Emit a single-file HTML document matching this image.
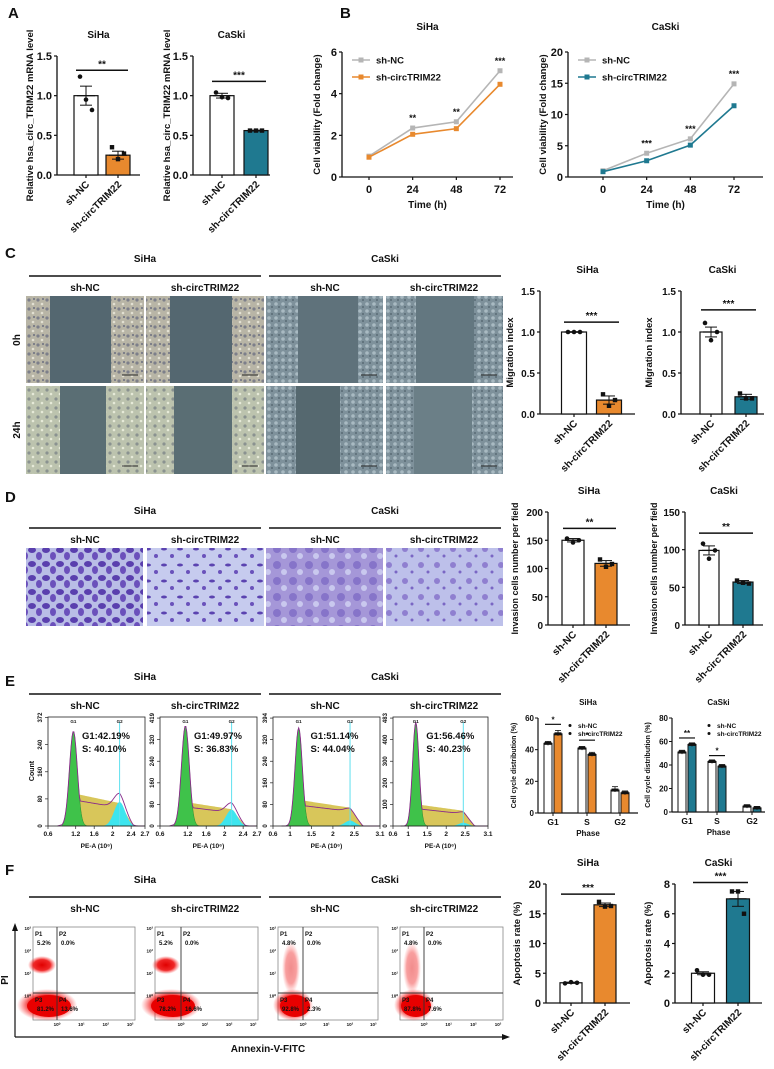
<!DOCTYPE html>
<html><head><meta charset="utf-8"><style>
html,body{margin:0;padding:0;background:#fff}
svg{display:block}
text{font-family:"Liberation Sans",Arial,sans-serif;font-weight:bold;fill:#111}
</style></head><body>
<svg id="fig" width="774" height="1069" viewBox="0 0 774 1069" xmlns="http://www.w3.org/2000/svg">
<defs>
<pattern id="pSi" width="9" height="9" patternUnits="userSpaceOnUse"><rect width="9" height="9" fill="#b8b5a6"/><circle cx="2" cy="3" r="1.6" fill="#7d7f8a"/><circle cx="6" cy="7" r="1.3" fill="#e2e0d2"/><circle cx="7" cy="2" r="1" fill="#6c6f80"/></pattern>
<pattern id="pSi2" width="9" height="9" patternUnits="userSpaceOnUse"><rect width="9" height="9" fill="#bcc3ae"/><circle cx="2" cy="3" r="1.6" fill="#8a9290"/><circle cx="6" cy="7" r="1.3" fill="#e6ead8"/></pattern>
<pattern id="pCa" width="7" height="7" patternUnits="userSpaceOnUse"><rect width="7" height="7" fill="#7e919b"/><circle cx="3" cy="3" r="1.8" fill="#a9bac2"/><circle cx="6" cy="6" r="0.9" fill="#4d6069"/></pattern>
<pattern id="pInv1" width="14" height="14" patternUnits="userSpaceOnUse"><rect width="14" height="14" fill="#b9bde6"/><ellipse cx="4" cy="4" rx="4" ry="3" fill="#5a3fae"/><ellipse cx="11" cy="10" rx="3" ry="4" fill="#6b50bb"/></pattern>
<pattern id="pInv2" width="16" height="16" patternUnits="userSpaceOnUse"><rect width="16" height="16" fill="#c6cbee"/><ellipse cx="4" cy="5" rx="3" ry="1.5" fill="#5b43b0"/><circle cx="12" cy="12" r="2" fill="#6a52bb"/></pattern>
<pattern id="pInv3" width="16" height="16" patternUnits="userSpaceOnUse"><rect width="16" height="16" fill="#a597d8"/><circle cx="5" cy="5" r="4" fill="#8674c9"/><circle cx="12" cy="12" r="3" fill="#c9c8ee"/></pattern>
<pattern id="pInv4" width="16" height="16" patternUnits="userSpaceOnUse"><rect width="16" height="16" fill="#bdc0ea"/><circle cx="5" cy="5" r="3" fill="#8f7fd0"/><circle cx="12" cy="12" r="1.5" fill="#7a66c4"/></pattern>
<radialGradient id="rg"><stop offset="0" stop-color="#e00000"/><stop offset="0.6" stop-color="#ee1010" stop-opacity="0.9"/><stop offset="1" stop-color="#ff4040" stop-opacity="0"/></radialGradient>
</defs>
<g id="root"></g>
</svg>
<script>
// ---------- data ----------
const cats = ["sh-NC","sh-circTRIM22"];
const aSihaVals=[1.0,0.25], aSihaErr=[0.12,0.05], aSihaPts=[[1.24,0.95,0.82],[0.35,0.2,0.27]];
const aCaskiVals=[1.0,0.56], aCaskiErr=[0.03,0.005], aCaskiPts=[[1.04,0.98,0.97],[0.56,0.56,0.56]];
const timeCats=[0,24,48,72];
const bSihaNC=[1.0,2.35,2.65,5.1], bSihaSh=[0.95,2.05,2.32,4.45], bSihaSig=["","**","**","***"];
const bCaskiNC=[1.0,3.8,6.1,14.9], bCaskiSh=[0.85,2.6,5.1,11.4], bCaskiSig=["","***","***","***"];
const cSihaVals=[1.0,0.17], cSihaErr=[0.003,0.05], cSihaPts=[[1,1,1],[0.24,0.1,0.17]];
const cCaskiVals=[1.0,0.21], cCaskiErr=[0.06,0.03], cCaskiPts=[[1.11,0.9,1.0],[0.25,0.19,0.19]];
const dSihaVals=[150,109], dSihaErr=[3,5], dSihaPts=[[153,146,150],[116,103,108]];
const dCaskiVals=[99,57], dCaskiErr=[6,2], dCaskiPts=[[108,88,99],[59,56,55]];
const phases=["G1","S","G2"];
const eSihaNC=[44,41,14.5], eSihaSh=[50,37,12.8], eSihaErrNC=[0.6,0.4,1.5], eSihaErrSh=[1.5,0.7,0.5];
const eCaskiNC=[51,43,5], eCaskiSh=[57.5,39,3.5], eCaskiErrNC=[0.7,0.5,0.4], eCaskiErrSh=[0.5,0.6,0.4];
const fSihaVals=[3.4,16.5], fSihaErr=[0.1,0.3], fSihaPts=[[3.3,3.5,3.4],[17,16.2,16.3]];
const fCaskiVals=[2.0,7.0], fCaskiErr=[0.1,0.5], fCaskiPts=[[2.2,1.9,1.9],[7.5,7.5,6.0]];
const histG1=["G1:42.19%","G1:49.97%","G1:51.14%","G1:56.46%"];
const histS=["S:  40.10%","S:  36.83%","S:  44.04%","S:  40.23%"];
const histYT=[["0","80","160","240","372"],["0","80","160","240","320","419"],["0","80","160","240","320","394"],["0","100","200","300","400","483"]];
const flowP1=["5.2%","5.2%","4.8%","4.8%"], flowP3=["81.2%","78.2%","92.8%","87.8%"], flowP4=["13.6%","16.6%","2.3%","7.6%"];

const NS="http://www.w3.org/2000/svg";
const root=document.getElementById('root');
function el(tag,attrs,parent,txt){const e=document.createElementNS(NS,tag);for(const k in attrs)e.setAttribute(k,attrs[k]);if(txt!==undefined)e.textContent=txt;(parent||root).appendChild(e);return e;}
function T(x,y,s,size,name,anchor,rot,parent){const t=el('text',{x:x,y:y,'font-size':size,'text-anchor':anchor||'middle'},parent,s);if(rot)t.setAttribute('transform','rotate('+rot+' '+x+' '+y+')');

return t;}
function L(x1,y1,x2,y2,w,c,parent){return el('line',{x1:x1,y1:y1,x2:x2,y2:y2,stroke:c||'#111','stroke-width':w||1.2},parent);}

const ORANGE="#e8892e", TEAL="#1f7990";

[["A",8,18],["B",340,18],["C",5,258],["D",5,502],["E",5,686],["F",5,875]].forEach(p=>{T(p[1],p[2],p[0],15,'panel-label-'+p[0].toLowerCase(),'start');});

function barChart(o){
  const g=el('g',{});
  
  
  const sy=v=>o.y0-(v/o.max)*(o.y0-o.yTop);
  T((o.ax+o.xEnd)/2,o.yTop-18,o.title,10,o.name+'-title','middle',0,g);
  L(o.ax,o.yTop,o.ax,o.y0,1.3,'#111',g);L(o.ax,o.y0,o.xEnd,o.y0,1.3,'#111',g);
  o.ticks.forEach(t=>{const y=sy(t);L(o.ax-3,y,o.ax,y,1.2,'#111',g);T(o.ax-5,y+4,o.tickFmt?o.tickFmt(t):String(t),o.tfs||11,o.name+'-tick','end',0,g);});
  T(o.ylx,(o.yTop+o.y0)/2,o.ylabel,o.ylfs||9.5,o.name+'-y-title','middle',-90,g);
  o.vals.forEach((v,i)=>{
    const cx=o.cx[i],w=o.w;
    const r=el('rect',{x:cx-w/2,y:sy(v),width:w,height:o.y0-sy(v),fill:i?o.color:'#fff',stroke:'#111','stroke-width':1.2},g);
    
    
    const e=o.errs[i];L(cx,sy(v+e),cx,sy(v-e),1,'#111',g);L(cx-6,sy(v+e),cx+6,sy(v+e),1,'#111',g);L(cx-6,sy(v-e),cx+6,sy(v-e),1,'#111',g);
    L(cx-w/2+3,sy(v),cx+w/2-3,sy(v),1.2,'#111',g);
    o.pts[i].forEach((p,j)=>{const px=cx+(j-1)*6;const s=i?el('rect',{x:px-2.2,y:sy(p)-2.2,width:4.4,height:4.4,fill:'#111'},g):el('circle',{cx:px,cy:sy(p),r:2.3,fill:'#111'},g);
      
      });
    L(cx,o.y0,cx,o.y0+3,1.2,'#111',g);
    T(cx+4,o.y0+10,cats[i],o.cfs||10,'category-label','end',-45,g);
  });
  const sl=sy(o.sigV);L(o.cx[0]-10,sl,o.cx[1]+10,sl,1.5,'#111',g);T((o.cx[0]+o.cx[1])/2,sl-3,o.sig,10,o.name+'-significance','middle',0,g);
}
barChart({name:'a-siha-chart',title:'SiHa',ax:57,xEnd:140,y0:175,yTop:56,max:1.5,ticks:[0,0.5,1.0,1.5],tickFmt:t=>t.toFixed(1),cx:[86,118],w:24,vals:aSihaVals,errs:aSihaErr,pts:aSihaPts,color:ORANGE,sig:'**',sigV:1.32,ylabel:'Relative  hsa_circ_TRIM22 mRNA level',ylx:33});
barChart({name:'a-caski-chart',title:'CaSki',ax:193,xEnd:270,y0:175,yTop:56,max:1.5,ticks:[0,0.5,1.0,1.5],tickFmt:t=>t.toFixed(1),cx:[222,256],w:24,vals:aCaskiVals,errs:aCaskiErr,pts:aCaskiPts,color:TEAL,sig:'***',sigV:1.18,ylabel:'Relative  hsa_circ_TRIM22 mRNA level',ylx:170});
barChart({name:'c-siha-chart',title:'SiHa',ax:540,xEnd:635,y0:414,yTop:291,max:1.5,ticks:[0,0.5,1.0,1.5],tickFmt:t=>t.toFixed(1),tfs:10,cx:[574,609],w:25,vals:cSihaVals,errs:cSihaErr,pts:cSihaPts,color:ORANGE,sig:'***',sigV:1.12,ylabel:'Migration index',ylx:513});
barChart({name:'c-caski-chart',title:'CaSki',ax:681,xEnd:764,y0:414,yTop:291,max:1.5,ticks:[0,0.5,1.0,1.5],tickFmt:t=>t.toFixed(1),tfs:10,cx:[711,746],w:22,vals:cCaskiVals,errs:cCaskiErr,pts:cCaskiPts,color:TEAL,sig:'***',sigV:1.27,ylabel:'Migration index',ylx:652});
barChart({name:'d-siha-chart',title:'SiHa',ax:548,xEnd:630,y0:625,yTop:512,max:200,ticks:[0,50,100,150,200],tfs:10,cx:[573,606],w:22,vals:dSihaVals,errs:dSihaErr,pts:dSihaPts,color:ORANGE,sig:'**',sigV:171,ylabel:'Invasion cells number per field',ylx:518,ylfs:9});
barChart({name:'d-caski-chart',title:'CaSki',ax:685,xEnd:763,y0:625,yTop:512,max:150,ticks:[0,50,100,150],tfs:10,cx:[709,743],w:20,vals:dCaskiVals,errs:dCaskiErr,pts:dCaskiPts,color:TEAL,sig:'**',sigV:122,ylabel:'Invasion cells number per field',ylx:657,ylfs:9});
barChart({name:'f-siha-chart',title:'SiHa',ax:546,xEnd:630,y0:1003,yTop:884,max:20,ticks:[0,5,10,15,20],cx:[571,605],w:22,vals:fSihaVals,errs:fSihaErr,pts:fSihaPts,color:ORANGE,sig:'***',sigV:18.3,ylabel:'Apoptosis rate (%)',ylx:520});
barChart({name:'f-caski-chart',title:'CaSki',ax:675,xEnd:762,y0:1003,yTop:884,max:8,ticks:[0,2,4,6,8],cx:[703,738],w:23,vals:fCaskiVals,errs:fCaskiErr,pts:fCaskiPts,color:TEAL,sig:'***',sigV:8.1,ylabel:'Apoptosis rate (%)',ylx:651});

function lineChart(o){
  const g=el('g',{});
  
  
  const sy=v=>o.y0-(v/o.max)*(o.y0-o.yTop);
  const sx=i=>o.x0+i*(o.x3-o.x0)/3;
  T((o.ax+o.xEnd)/2,o.yTop-22,o.title,10,o.name+'-title','middle',0,g);
  L(o.ax,o.yTop,o.ax,o.y0,1.3,'#111',g);L(o.ax,o.y0,o.xEnd,o.y0,1.3,'#111',g);
  o.ticks.forEach(t=>{const y=sy(t);L(o.ax-3,y,o.ax,y,1.2,'#111',g);T(o.ax-5,y+4,String(t),11,'y-tick','end',0,g);});
  timeCats.forEach((c,i)=>{L(sx(i),o.y0,sx(i),o.y0+3,1.2,'#111',g);T(sx(i),o.y0+16,String(c),11,'x-tick','middle',0,g);});
  T((o.ax+o.xEnd)/2,o.y0+31,'Time (h)',10,'x-axis-title','middle',0,g);
  T(o.ax-22,(o.yTop+o.y0)/2,'Cell viability (Fold change)',9.5,'y-axis-title','middle',-90,g);
  [[o.nc,'#b5b5b5','sh-NC'],[o.sh,o.color,'sh-circTRIM22']].forEach((s,k)=>{
    const p=el('polyline',{points:s[0].map((v,i)=>sx(i)+','+sy(v)).join(' '),fill:'none',stroke:s[1],'stroke-width':1.6},g);
    
    
    s[0].forEach((v,i)=>{const m=el('rect',{x:sx(i)-2.5,y:sy(v)-2.5,width:5,height:5,fill:s[1]},g);
      
      });
    const ly=o.yTop+8+k*17;L(o.ax+10,ly,o.ax+28,ly,1.6,s[1],g);el('rect',{x:o.ax+16.5,y:ly-2.5,width:5,height:5,fill:s[1]},g);
    T(o.ax+34,ly+3.5,s[2],9.5,'legend-entry','start',0,g);
  });
  o.sig.forEach((s,i)=>{if(s)T(sx(i),sy(o.nc[i])-7,s,9,'significance','middle',0,g);});
}
lineChart({name:'b-siha-chart',title:'SiHa',ax:342,xEnd:513,x0:369,x3:500,y0:177,yTop:52,max:6,ticks:[0,2,4,6],nc:bSihaNC,sh:bSihaSh,sig:bSihaSig,color:ORANGE});
lineChart({name:'b-caski-chart',title:'CaSki',ax:568,xEnd:763,x0:603,x3:734,y0:177,yTop:52,max:20,ticks:[0,5,10,15,20],nc:bCaskiNC,sh:bCaskiSh,sig:bCaskiSig,color:TEAL});

function header(y,name){
  T(145,y,'SiHa',10,name+'-siha','middle');T(385,y,'CaSki',10,name+'-caski','middle');
  L(29,y+14,261,y+14,1.5);L(269,y+14,501,y+14,1.5);
  [[85,'sh-NC'],[205,'sh-circTRIM22'],[325,'sh-NC'],[444,'sh-circTRIM22']].forEach(s=>T(s[0],y+29,s[1],10,name+'-condition','middle'));
}
header(262,'c-header');header(514,'d-header');header(680,'e-header');header(883,'f-header');
T(20,340,'0h',10,'row-label-0h','middle',-90);T(20,430,'24h',10,'row-label-24h','middle',-90);

const imgX=[26,146,266,386], imgW=118;
function wound(x,y,w,h,pat,gap,g0,g1){
  const g=el('g',{});
  
  
  el('rect',{x:x,y:y,width:w,height:h,fill:'url(#'+pat+')'},g);
  el('rect',{x:x+g0,y:y,width:g1-g0,height:h,fill:gap},g);
  L(x+w-22,y+h-8,x+w-6,y+h-8,1,'#222',g);
}
wound(26,296,118,87,'pSi','#546770',24,85);wound(146,296,118,87,'pSi','#546770',24,86);
wound(266,296,117,87,'pCa','#5f727b',32,92);wound(386,296,117,87,'pCa','#637780',30,88);
wound(26,386,118,88,'pSi2','#5a6e74',34,80);wound(146,386,118,88,'pSi2','#5a6e74',28,86);
wound(266,386,117,88,'pCa','#55686f',30,74);wound(386,386,117,88,'pCa','#6b7f87',28,86);
['pInv1','pInv2','pInv3','pInv4'].forEach((p,i)=>{const r=el('rect',{x:imgX[i]+(i==1?1:0),y:548,width:imgW-1,height:78,fill:'url(#'+p+')'});

});

const hBox=[[48,145,0.6,2.7,['0.6','1.2','1.6','2','2.4','2.7'],[0.6,1.2,1.6,2,2.4,2.7],1.15,2.15],[160,257,0.6,2.7,['0.6','1.2','1.6','2','2.4','2.7'],[0.6,1.2,1.6,2,2.4,2.7],1.15,2.15],[273,380,0.6,3.1,['0.6','1','1.5','2','2.5','3.1'],[0.6,1,1.5,2,2.5,3.1],1.2,2.4],[393,488,0.6,3.1,['0.6','1','1.5','2','2.5','3.1'],[0.6,1,1.5,2,2.5,3.1],1.2,2.45]];
const hPeak=[0.87,0.92,0.9,0.95], hPlat=[0.3,0.22,0.24,0.2], hG2=[0.22,0.15,0.05,0.03];
hBox.forEach((b,k)=>{
  const g=el('g',{});
  
  
  const [x0,x1,v0,v1,labs,vals,g1,g2]=b, yT=717, yB=826;
  const sx=v=>x0+(v-v0)/(v1-v0)*(x1-x0), sy=f=>yB-f*(yB-yT);
  let gp='M'+sx(0.9)+','+yB, yp='M'+sx(g1)+','+yB, cp='M'+sx(g2-0.4)+','+yB, op='M'+sx(0.8)+','+yB;
  for(let v=0.9;v<=v1;v+=0.02){
    const gr=hPeak[k]*Math.exp(-Math.pow((v-g1)/0.12,2));
    const ye=(v>g1-0.05&&v<g2)?hPlat[k]*(1-0.3*(v-g1)/(g2-g1)):(v>=g2?Math.max(0,hPlat[k]*0.7*(1-(v-g2)/0.3)):0);
    const cy=hG2[k]*Math.exp(-Math.pow((v-g2)/0.17,2));
    gp+=' L'+sx(v)+','+sy(gr); if(v>=g1) yp+=' L'+sx(v)+','+sy(ye); if(v>=g2-0.4) cp+=' L'+sx(v)+','+sy(cy);
    op+=' L'+sx(v)+','+sy(Math.max(gr,ye*0.8+cy*0.6,cy));
  }
  el('path',{d:yp+' L'+sx(v1)+','+yB+' Z',fill:'#d8c65a'},g);
  el('path',{d:cp+' L'+sx(v1)+','+yB+' Z',fill:'#3de5ee'},g);
  el('path',{d:gp+' L'+sx(v1)+','+yB+' Z',fill:'#3fc24a',stroke:'#2a8a30','stroke-width':0.5},g);
  el('path',{d:op,fill:'none',stroke:'#8a2a8a','stroke-width':0.9},g);
  L(sx(g2),yT+5,sx(g2),yB,1,'#5fe0ee',g);
  T(sx(g1),yT+6,'G1',4.5,'peak-label','middle',0,g);T(sx(g2),yT+6,'G2',4.5,'peak-label','middle',0,g);
  el('rect',{x:x0,y:yT,width:x1-x0,height:yB-yT,fill:'none',stroke:'#222','stroke-width':0.8},g);
  T(x0+(x1-x0)*0.35,yT+22,histG1[k],9.5,'g1-percent','start',0,g);
  T(x0+(x1-x0)*0.35,yT+35,histS[k],9.5,'s-percent','start',0,g);
  const yt=histYT[k];yt.forEach((t,i)=>{const y=yB-i*(yB-yT)/(yt.length-1+ (k==0?0.02:0.05));L(x0-3,y,x0,y,0.7,'#222',g);T(x0-6,y,t,6,'y-tick','middle',-90,g);});
  labs.forEach((l,i)=>{const x=sx(vals[i]);L(x,yB,x,yB+3,0.7,'#222',g);T(x,yB+10,l,6.5,'x-tick','middle',0,g);});
  T((x0+x1)/2,yB+22,'PE-A (10⁶)',6.5,'x-axis-title','middle',0,g);
});
T(34,771,'Count',7,'count-label','middle',-90);

function groupChart(o){
  const g=el('g',{});
  
  
  const sy=v=>o.y0-(v/o.max)*(o.y0-o.yTop);
  T((o.ax+o.xEnd)/2,o.yTop-13,o.title,8,o.name+'-title','middle',0,g);
  L(o.ax,o.yTop,o.ax,o.y0,1.2,'#111',g);L(o.ax,o.y0,o.xEnd,o.y0,1.2,'#111',g);
  o.ticks.forEach(t=>{const y=sy(t);L(o.ax-3,y,o.ax,y,1,'#111',g);T(o.ax-4,y+3,String(t),8,'y-tick','end',0,g);});
  T(o.ax-22,(o.yTop+o.y0)/2,'Cell cycle distribution (%)',7,'y-axis-title','middle',-90,g);
  phases.forEach((p,i)=>{
    const c=o.cx[i];
    [[o.nc,o.enc,'#fff',-5],[o.sh,o.esh,o.color,5]].forEach((s,k)=>{
      const v=s[0][i],e=s[1][i],x=c+s[3];
      const r=el('rect',{x:x-4,y:sy(v),width:8,height:o.y0-sy(v),fill:s[2],stroke:'#111','stroke-width':1},g);
      
      
      L(x,sy(v+e)-1,x,sy(v)+2,0.8,'#111',g);L(x-3,sy(v+e)-1,x+3,sy(v+e)-1,0.8,'#111',g);
      el('rect',{x:x-3.5,y:sy(v)-1.5,width:7,height:3,fill:'#111'},g);
    });
    L(c,o.y0,c,o.y0+3,1,'#111',g);T(c,o.y0+12,p,8.5,'x-tick','middle',0,g);
  });
  T((o.ax+o.xEnd)/2,o.y0+23,'Phase',8,'x-axis-title','middle',0,g);
  o.sigs.forEach(s=>{const y=sy(s[1]);L(o.cx[s[0]]-8,y,o.cx[s[0]]+8,y,1.2,'#111',g);T(o.cx[s[0]],y-2,s[2],8,'significance','middle',0,g);});
  ['sh-NC','sh-circTRIM22'].forEach((l,k)=>{const ly=o.yTop+10+k*8;el('circle',{cx:o.ax+o.legx,cy:ly-2.5,r:1.5,fill:'#111'},g);T(o.ax+o.legx+8,ly,l,6.5,'legend-entry','start',0,g);});
}
groupChart({name:'e-siha-chart',title:'SiHa',ax:538,xEnd:638,y0:813,yTop:718,max:60,ticks:[0,20,40,60],cx:[553,587,620],nc:eSihaNC,sh:eSihaSh,enc:eSihaErrNC,esh:eSihaErrSh,color:ORANGE,sigs:[[0,56,'*'],[1,46,'*']],legx:32});
groupChart({name:'e-caski-chart',title:'CaSki',ax:672,xEnd:765,y0:812,yTop:718,max:80,ticks:[0,20,40,60,80],cx:[687,717,752],nc:eCaskiNC,sh:eCaskiSh,enc:eCaskiErrNC,esh:eCaskiErrSh,color:TEAL,sigs:[[0,63,'**'],[1,48,'*']],legx:37});

const fBox=[[33,135,57],[155,258,181],[278,378,303],[400,503,424]];
fBox.forEach((b,k)=>{
  const g=el('g',{});
  
  
  const [x0,x1,qx]=b,yT=927,yB=1020,qy=993;
  el('rect',{x:x0,y:yT,width:x1-x0,height:yB-yT,fill:'#fff',stroke:'#888','stroke-width':0.8},g);
  if(k<2){el('ellipse',{cx:qx-15,cy:965,rx:14,ry:9,fill:'url(#rg)'},g);}
  else{el('ellipse',{cx:qx-12,cy:968,rx:9,ry:26,fill:'url(#rg)',opacity:0.45},g);}
  el('ellipse',{cx:qx-10,cy:1005,rx:k<2?30:20,ry:16,fill:'url(#rg)'},g);
  el('ellipse',{cx:qx-8,cy:1006,rx:k<2?22:15,ry:11,fill:'#e80000'},g);
  L(qx,yT,qx,yB,0.9,'#333',g);L(x0,qy,x1,qy,0.9,'#333',g);
  T(x0+2,yT+9,'P1',6,'quadrant-label','start',0,g);T(x0+4,yT+18,flowP1[k],6,'quadrant-value','start',0,g);
  T(qx+2,yT+9,'P2',6,'quadrant-label','start',0,g);T(qx+4,yT+18,'0.0%',6,'quadrant-value','start',0,g);
  T(x0+2,qy+9,'P3',6,'quadrant-label','start',0,g);T(x0+4,qy+18,flowP3[k],6,'quadrant-value','start',0,g);
  T(qx+2,qy+9,'P4',6,'quadrant-label','start',0,g);T(qx+4,qy+18,flowP4[k],6,'quadrant-value','start',0,g);
  ['10³','10²','10¹','10⁰'].forEach((t,i)=>T(x0-2,yT+3+i*22.5,t,4.5,'y-tick','end',0,g));
  ['10⁰','10¹','10²','10³'].forEach((t,i)=>T(qx+i*(x1-qx)/3.2,yB+6,t,4.5,'x-tick','middle',0,g));
});
L(15,1037,15,928,1.2);el('path',{d:'M15,923 L12,931 L18,931 Z',fill:'#111'});
L(15,1037,505,1037,1.2);el('path',{d:'M510,1037 L502,1034 L502,1040 Z',fill:'#111'});
T(8,980,'PI',10,'y-axis-title-pi','middle',-90);
T(268,1052,'Annexin-V-FITC',10,'x-axis-title-annexin','middle');
</script>
</body></html>
